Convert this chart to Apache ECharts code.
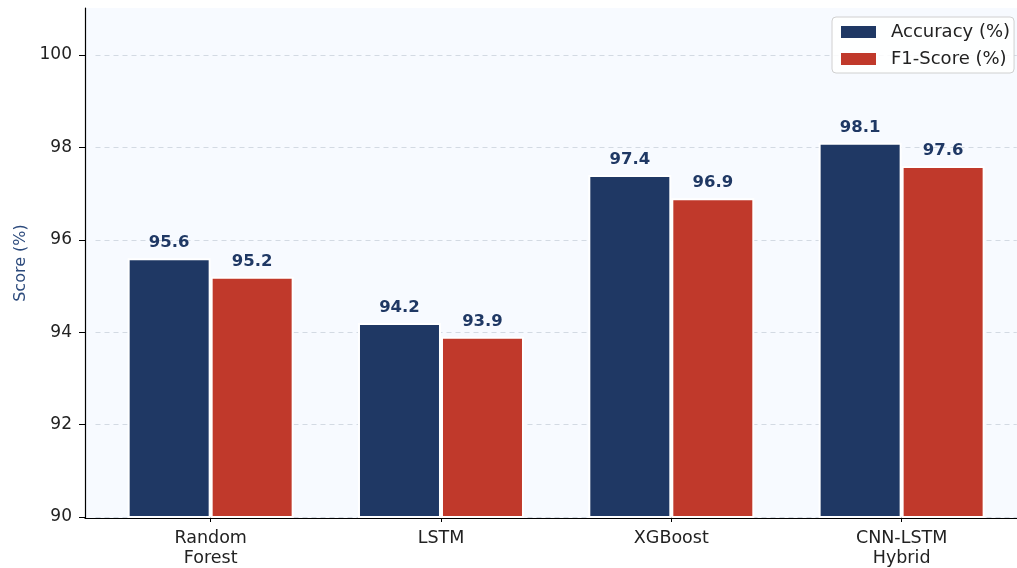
<!DOCTYPE html>
<html><head><meta charset="utf-8">
<script src="https://cdn.jsdelivr.net/npm/echarts@6/dist/echarts.min.js"></script>
<style>html,body{margin:0;padding:0;background:#fff}#c{width:1017px;height:568px}</style>
</head><body><div id="c"></div>
<script>
const categories = ['Random\nForest', 'LSTM', 'XGBoost', 'CNN-LSTM\nHybrid'];
const accuracy = [95.6, 94.2, 97.4, 98.1];
const f1score = [95.2, 93.9, 96.9, 97.6];
const yTicks = [90, 92, 94, 96, 98, 100];

const navy = '#1f3864', red = '#c0392b';
const font = 'DejaVu Sans';
const chart = echarts.init(document.getElementById('c'), null, {renderer: 'canvas'});
const lbl = {show: true, position: 'top', distance: 7, color: navy, fontWeight: 'bold', fontSize: 16.5, fontFamily: font, formatter: p => p.value.toFixed(1)};
chart.setOption({
  animation: false,
  textStyle: {fontFamily: font},
  grid: [
    {left: 85, width: 932, top: 8, height: 510, backgroundColor: '#f7faff', show: true, borderWidth: 0},
    {left: 95.5, width: 921.3, top: 55, height: 463}
  ],
  xAxis: [
    {gridIndex: 0, type: 'value', min: 0, max: 1, z: 5, axisLine: {show: true, onZero: false, lineStyle: {color: '#000', width: 1.2}}, axisTick: {show: false}, axisLabel: {show: false}, splitLine: {show: false}},
    {gridIndex: 1, type: 'category', data: categories, axisLine: {show: false}, axisTick: {show: true, alignWithLabel: true, length: 5, lineStyle: {color: '#000'}}, axisLabel: {color: '#222', fontSize: 17.5, fontFamily: font, lineHeight: 19.5, margin: 12}}
  ],
  yAxis: [
    {gridIndex: 0, type: 'value', min: 90, max: 101, z: 5, axisLine: {show: true, lineStyle: {color: '#000', width: 1.2}}, axisTick: {show: false}, axisLabel: {show: false}, splitLine: {show: false},
     name: 'Score (%)', nameLocation: 'middle', nameGap: 56, nameTextStyle: {color: '#2c4a7c', fontSize: 16, fontFamily: font}},
    {gridIndex: 1, type: 'value', min: yTicks[0], max: yTicks[yTicks.length - 1], interval: 2, offset: 10.5,
     axisLine: {show: false}, axisTick: {show: true, length: 6, lineStyle: {color: '#000'}},
     axisLabel: {color: '#222', fontSize: 17, fontFamily: font, margin: 13},
     splitLine: {show: true, lineStyle: {color: '#d3dae3', type: [5, 4], width: 1}}}
  ],
  legend: {
    orient: 'vertical', left: 832, top: 17, padding: [6, 4, 5, 9], itemGap: 9,
    itemWidth: 35, itemHeight: 12, icon: 'rect', backgroundColor: 'rgba(255,255,255,0.85)', borderColor: '#d0d0d0', borderWidth: 1, borderRadius: 4,
    textStyle: {fontSize: 18, color: '#222', fontFamily: font, padding: [0, 0, 0, 10]},
    itemStyle: {borderWidth: 0},
    data: ['Accuracy (%)', 'F1-Score (%)']
  },
  series: [
    {name: 'Accuracy (%)', type: 'bar', xAxisIndex: 1, yAxisIndex: 1, data: accuracy, barWidth: 83, barGap: '0%',
     itemStyle: {color: navy, borderColor: '#fff', borderWidth: 2}, label: lbl},
    {name: 'F1-Score (%)', type: 'bar', xAxisIndex: 1, yAxisIndex: 1, data: f1score, barWidth: 83, barGap: '0%',
     itemStyle: {color: red, borderColor: '#fff', borderWidth: 2}, label: lbl}
  ]
});
</script></body></html>
